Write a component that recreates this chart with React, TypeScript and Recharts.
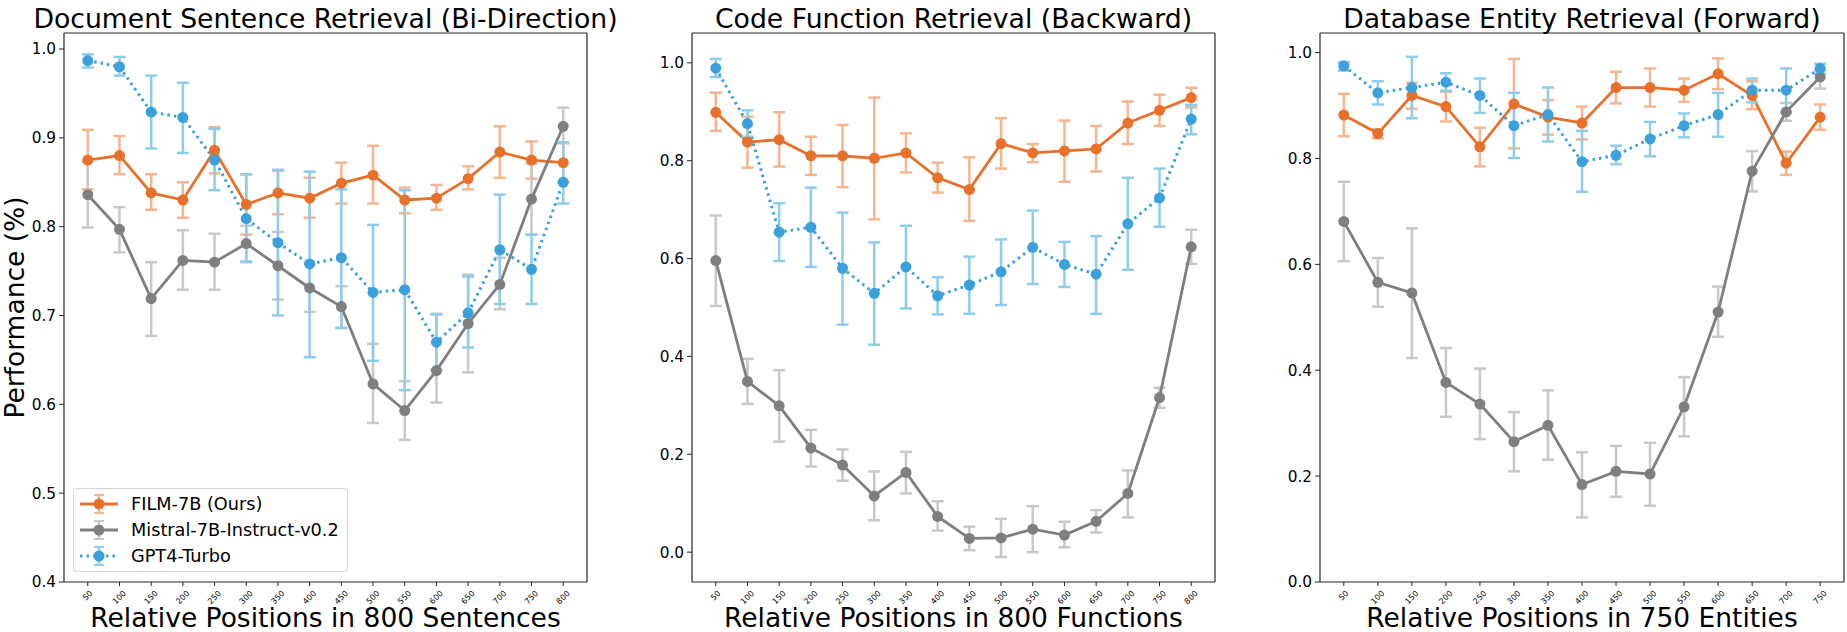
import React from 'react';
import { LineChart, Line, XAxis, YAxis, ErrorBar, Legend, ReferenceLine } from 'recharts';

const FONT = '"DejaVu Sans", "Noto Sans", sans-serif';
const ORANGE = '#E8702A';
const ORANGE_ERR = '#F4B58F';
const GRAY = '#7F7F7F';
const GRAY_ERR = '#C8C8C8';
const BLUE = '#3BA0DB';
const BLUE_ERR = '#8DCDEC';

const SERIES_NAMES = ['FILM-7B (Ours)', 'Mistral-7B-Instruct-v0.2', 'GPT4-Turbo'];

const positions800 = [50, 100, 150, 200, 250, 300, 350, 400, 450, 500, 550, 600, 650, 700, 750, 800];
const positions750 = [50, 100, 150, 200, 250, 300, 350, 400, 450, 500, 550, 600, 650, 700, 750];

// Document Sentence Retrieval (Bi-Direction)
const docFilm = [0.875, 0.880, 0.838, 0.830, 0.886, 0.825, 0.838, 0.832, 0.849, 0.858, 0.830, 0.832, 0.854, 0.884, 0.875, 0.872];
const docFilmHi = [0.909, 0.902, 0.859, 0.850, 0.912, 0.859, 0.863, 0.855, 0.872, 0.891, 0.844, 0.847, 0.868, 0.913, 0.896, 0.894];
const docFilmLo = [0.842, 0.859, 0.819, 0.810, 0.860, 0.791, 0.814, 0.810, 0.826, 0.826, 0.815, 0.819, 0.842, 0.855, 0.854, 0.850];
const docMistral = [0.836, 0.797, 0.719, 0.762, 0.760, 0.781, 0.756, 0.731, 0.710, 0.623, 0.593, 0.638, 0.691, 0.735, 0.831, 0.913];
const docMistralHi = [0.873, 0.822, 0.760, 0.796, 0.792, 0.801, 0.794, 0.758, 0.733, 0.668, 0.626, 0.702, 0.746, 0.765, 0.871, 0.934];
const docMistralLo = [0.799, 0.771, 0.677, 0.729, 0.729, 0.761, 0.718, 0.704, 0.686, 0.579, 0.560, 0.602, 0.636, 0.707, 0.791, 0.894];
const docGpt = [0.987, 0.980, 0.929, 0.923, 0.875, 0.809, 0.782, 0.758, 0.765, 0.726, 0.729, 0.670, 0.703, 0.774, 0.752, 0.850];
const docGptHi = [0.994, 0.991, 0.970, 0.962, 0.910, 0.859, 0.864, 0.862, 0.842, 0.802, 0.841, 0.701, 0.744, 0.836, 0.791, 0.895];
const docGptLo = [0.979, 0.970, 0.888, 0.883, 0.841, 0.760, 0.700, 0.653, 0.686, 0.649, 0.616, 0.639, 0.664, 0.713, 0.713, 0.826];

// Code Function Retrieval (Backward)
const codeFilm = [0.899, 0.838, 0.843, 0.810, 0.810, 0.805, 0.816, 0.765, 0.741, 0.835, 0.816, 0.820, 0.824, 0.877, 0.903, 0.929];
const codeFilmHi = [0.939, 0.890, 0.899, 0.849, 0.873, 0.929, 0.856, 0.796, 0.807, 0.887, 0.834, 0.882, 0.871, 0.921, 0.935, 0.949];
const codeFilmLo = [0.861, 0.786, 0.788, 0.771, 0.746, 0.680, 0.776, 0.735, 0.677, 0.784, 0.797, 0.757, 0.778, 0.834, 0.871, 0.909];
const codeMistral = [0.596, 0.349, 0.299, 0.213, 0.178, 0.115, 0.163, 0.073, 0.028, 0.029, 0.047, 0.035, 0.063, 0.120, 0.316, 0.624];
const codeMistralHi = [0.688, 0.395, 0.372, 0.250, 0.210, 0.165, 0.205, 0.104, 0.052, 0.068, 0.094, 0.062, 0.086, 0.167, 0.336, 0.659];
const codeMistralLo = [0.503, 0.303, 0.226, 0.175, 0.146, 0.065, 0.120, 0.044, 0.004, -0.010, 0.000, 0.010, 0.040, 0.071, 0.295, 0.589];
const codeGpt = [0.989, 0.876, 0.654, 0.664, 0.580, 0.529, 0.583, 0.524, 0.546, 0.573, 0.623, 0.588, 0.568, 0.671, 0.724, 0.885];
const codeGptHi = [1.008, 0.903, 0.713, 0.745, 0.694, 0.633, 0.667, 0.562, 0.604, 0.639, 0.698, 0.634, 0.646, 0.765, 0.784, 0.914];
const codeGptLo = [0.971, 0.849, 0.595, 0.583, 0.465, 0.424, 0.498, 0.486, 0.487, 0.505, 0.548, 0.542, 0.487, 0.577, 0.665, 0.854];

// Database Entity Retrieval (Forward)
const dbFilm = [0.882, 0.847, 0.919, 0.898, 0.822, 0.903, 0.878, 0.867, 0.934, 0.934, 0.929, 0.960, 0.919, 0.791, 0.878];
const dbFilmHi = [0.922, 0.855, 0.943, 0.926, 0.858, 0.988, 0.910, 0.898, 0.964, 0.970, 0.951, 0.989, 0.946, 0.813, 0.902];
const dbFilmLo = [0.842, 0.838, 0.894, 0.870, 0.785, 0.819, 0.845, 0.836, 0.904, 0.898, 0.907, 0.931, 0.893, 0.769, 0.854];
const dbMistral = [0.681, 0.566, 0.546, 0.377, 0.336, 0.265, 0.296, 0.184, 0.209, 0.204, 0.331, 0.510, 0.776, 0.888, 0.954];
const dbMistralHi = [0.756, 0.612, 0.668, 0.442, 0.403, 0.321, 0.362, 0.245, 0.257, 0.263, 0.387, 0.558, 0.814, 0.905, 0.967];
const dbMistralLo = [0.606, 0.520, 0.423, 0.312, 0.270, 0.209, 0.231, 0.122, 0.161, 0.144, 0.275, 0.463, 0.738, 0.871, 0.932];
const dbGpt = [0.975, 0.924, 0.934, 0.944, 0.919, 0.862, 0.883, 0.794, 0.806, 0.837, 0.862, 0.883, 0.929, 0.929, 0.970];
const dbGptHi = [0.982, 0.946, 0.992, 0.961, 0.951, 0.924, 0.934, 0.852, 0.824, 0.869, 0.885, 0.924, 0.951, 0.970, 0.979];
const dbGptLo = [0.966, 0.902, 0.876, 0.928, 0.886, 0.801, 0.832, 0.737, 0.789, 0.804, 0.840, 0.841, 0.906, 0.887, 0.960];

const ticksDocY = [0.4, 0.5, 0.6, 0.7, 0.8, 0.9, 1.0];
const ticksCodeY = [0.0, 0.2, 0.4, 0.6, 0.8, 1.0];
const ticksDbY = [0.0, 0.2, 0.4, 0.6, 0.8, 1.0];

type Triple = { v: number[]; hi: number[]; lo: number[] };

function buildRows(xs: number[], film: Triple, mistral: Triple, gpt: Triple) {
  return xs.map((x, i) => ({
    x,
    film: film.v[i],
    filmErr: [film.v[i] - film.lo[i], film.hi[i] - film.v[i]],
    mistral: mistral.v[i],
    mistralErr: [mistral.v[i] - mistral.lo[i], mistral.hi[i] - mistral.v[i]],
    gpt: gpt.v[i],
    gptErr: [gpt.v[i] - gpt.lo[i], gpt.hi[i] - gpt.v[i]],
  }));
}

const docRows = buildRows(
  positions800,
  { v: docFilm, hi: docFilmHi, lo: docFilmLo },
  { v: docMistral, hi: docMistralHi, lo: docMistralLo },
  { v: docGpt, hi: docGptHi, lo: docGptLo }
);
const codeRows = buildRows(
  positions800,
  { v: codeFilm, hi: codeFilmHi, lo: codeFilmLo },
  { v: codeMistral, hi: codeMistralHi, lo: codeMistralLo },
  { v: codeGpt, hi: codeGptHi, lo: codeGptLo }
);
const dbRows = buildRows(
  positions750,
  { v: dbFilm, hi: dbFilmHi, lo: dbFilmLo },
  { v: dbMistral, hi: dbMistralHi, lo: dbMistralLo },
  { v: dbGpt, hi: dbGptHi, lo: dbGptLo }
);

const AXIS = '#262626';

const RotTick = (props: any) => {
  const { x, y, payload } = props;
  const s = String(payload.value);
  const f = 8;
  const b = (s.length * 0.636 * f + 0.73 * f) * 0.7071;
  const cy = y + 2 + b / 2;
  return (
    <text
      x={x}
      y={cy}
      transform={`rotate(-45 ${x} ${cy})`}
      textAnchor="middle"
      dominantBaseline="central"
      fontSize={f}
      fontFamily={FONT}
      fill="#000"
    >
      {s}
    </text>
  );
};

const legendItems = [
  { name: SERIES_NAMES[0], color: ORANGE, err: ORANGE_ERR, dash: undefined as string | undefined },
  { name: SERIES_NAMES[1], color: GRAY, err: GRAY_ERR, dash: undefined as string | undefined },
  { name: SERIES_NAMES[2], color: BLUE, err: BLUE_ERR, dash: '2.5 4' },
];

const LegendBox = () => (
  <div
    style={{
      width: 275,
      height: 84,
      boxSizing: 'border-box',
      border: '1px solid #d6d6d6',
      borderRadius: 4,
      background: 'rgba(255,255,255,0.85)',
      fontFamily: FONT,
      fontSize: 17.7,
      position: 'relative',
      color: '#000',
    }}
  >
    {legendItems.map((it, i) => (
      <div
        key={it.name}
        style={{ position: 'absolute', left: 0, top: 2 + i * 26, height: 26, display: 'flex', alignItems: 'center' }}
      >
        <svg width={57} height={26} style={{ display: 'block' }}>
          <line x1={6} x2={44} y1={13} y2={13} stroke={it.color} strokeWidth={2.8} strokeDasharray={it.dash} />
          <line x1={25} x2={25} y1={4} y2={22} stroke={it.err} strokeWidth={2.5} />
          <line x1={20} x2={30} y1={4} y2={4} stroke={it.err} strokeWidth={2} />
          <line x1={20} x2={30} y1={22} y2={22} stroke={it.err} strokeWidth={2} />
          <circle cx={25} cy={13} r={5.5} fill={it.color} />
        </svg>
        <span style={{ whiteSpace: 'nowrap', lineHeight: '26px' }}>{it.name}</span>
      </div>
    ))}
  </div>
);

type PanelProps = {
  left: number;
  width: number;
  plotLeft: number;
  plotRight: number;
  title: string;
  xLabel: string;
  rows: any[];
  xDomain: [number, number];
  xTicks: number[];
  yDomain: [number, number];
  yTicks: number[];
  showYLabel?: boolean;
  showLegend?: boolean;
};

const Panel = (p: PanelProps) => {
  const yAxisWidth = p.plotLeft - p.left;
  const marginRight = p.left + p.width - p.plotRight;
  return (
    <div style={{ position: 'absolute', left: p.left, top: 0, width: p.width, height: 632 }}>
      <LineChart
        width={p.width}
        height={632}
        data={p.rows}
        margin={{ top: 33, right: marginRight, bottom: 0, left: 0 }}
      >
        <XAxis
          dataKey="x"
          type="number"
          domain={p.xDomain}
          ticks={p.xTicks}
          interval={0}
          allowDataOverflow
          height={50}
          tickSize={4}
          tickMargin={2}
          stroke={AXIS}
          tickLine={{ stroke: AXIS }}
          axisLine={{ stroke: AXIS, strokeWidth: 1.2 }}
          tick={<RotTick />}
          label={(lp: any) => {
            const vb = lp.viewBox;
            const cx = vb.x + vb.width / 2;
            return (
              <g>
                <text x={cx} y={627} textAnchor="middle" fontSize={26.5} fontFamily={FONT} fill="#000">
                  {p.xLabel}
                </text>
                <text x={cx} y={28} textAnchor="middle" fontSize={26.7} fontFamily={FONT} fill="#000">
                  {p.title}
                </text>
              </g>
            );
          }}
        />
        <YAxis
          type="number"
          domain={p.yDomain}
          ticks={p.yTicks}
          interval={0}
          allowDataOverflow
          width={yAxisWidth}
          tickSize={5}
          tickMargin={3}
          stroke={AXIS}
          tickLine={{ stroke: AXIS }}
          axisLine={{ stroke: AXIS, strokeWidth: 1.2 }}
          tick={{ fontSize: 15.3, fontFamily: FONT, fill: '#000' }}
          tickFormatter={(v: number) => v.toFixed(1)}
          label={
            p.showYLabel
              ? (lp: any) => {
                  const vb = lp.viewBox;
                  const cx = 24;
                  const cy = vb.y + vb.height / 2;
                  return (
                    <text
                      x={cx}
                      y={cy}
                      transform={`rotate(-90 ${cx} ${cy})`}
                      textAnchor="middle"
                      fontSize={26.5}
                      fontFamily={FONT}
                      fill="#000"
                    >
                      Performance (%)
                    </text>
                  );
                }
              : undefined
          }
        />
        <ReferenceLine y={p.yDomain[1]} stroke={AXIS} strokeWidth={1.2} ifOverflow="visible" />
        <ReferenceLine x={p.xDomain[1]} stroke={AXIS} strokeWidth={1.2} ifOverflow="visible" />
        <Line
          dataKey="film"
          name={SERIES_NAMES[0]}
          stroke={ORANGE}
          strokeWidth={2.8}
          dot={{ r: 5.5, fill: ORANGE, stroke: 'none' }}
          activeDot={false}
          isAnimationActive={false}
        >
          <ErrorBar dataKey="filmErr" stroke={ORANGE_ERR} strokeWidth={2.5} width={6} direction="y" isAnimationActive={false} />
        </Line>
        <Line
          dataKey="mistral"
          name={SERIES_NAMES[1]}
          stroke={GRAY}
          strokeWidth={2.8}
          dot={{ r: 5.5, fill: GRAY, stroke: 'none' }}
          activeDot={false}
          isAnimationActive={false}
        >
          <ErrorBar dataKey="mistralErr" stroke={GRAY_ERR} strokeWidth={2.5} width={6} direction="y" isAnimationActive={false} />
        </Line>
        <Line
          dataKey="gpt"
          name={SERIES_NAMES[2]}
          stroke={BLUE}
          strokeWidth={3}
          strokeDasharray="2.5 4"
          dot={{ r: 5.5, fill: BLUE, stroke: 'none', strokeDasharray: '0' }}
          activeDot={false}
          isAnimationActive={false}
        >
          <ErrorBar dataKey="gptErr" stroke={BLUE_ERR} strokeWidth={2.5} width={6} direction="y" isAnimationActive={false} />
        </Line>
        {p.showLegend ? (
          <Legend
            layout="vertical"
            align="center"
            verticalAlign="middle"
            content={() => <LegendBox />}
            wrapperStyle={{ left: 73, top: 488, width: 275, height: 84, margin: 0, padding: 0 }}
          />
        ) : null}
      </LineChart>
    </div>
  );
};

export default function App() {
  return (
    <div style={{ position: 'absolute', left: 0, top: 0, width: 1847, height: 632, background: '#fff', overflow: 'hidden' }}>
      <Panel
        left={0}
        width={640}
        plotLeft={64}
        plotRight={587}
        title="Document Sentence Retrieval (Bi-Direction)"
        xLabel="Relative Positions in 800 Sentences"
        rows={docRows}
        xDomain={[12.5, 837.5]}
        xTicks={positions800}
        yDomain={[0.4, 1.018]}
        yTicks={ticksDocY}
        showYLabel
        showLegend
      />
      <Panel
        left={615}
        width={620}
        plotLeft={692}
        plotRight={1215}
        title="Code Function Retrieval (Backward)"
        xLabel="Relative Positions in 800 Functions"
        rows={codeRows}
        xDomain={[12.5, 837.5]}
        xTicks={positions800}
        yDomain={[-0.061, 1.061]}
        yTicks={ticksCodeY}
      />
      <Panel
        left={1235}
        width={612}
        plotLeft={1320}
        plotRight={1844}
        title="Database Entity Retrieval (Forward)"
        xLabel="Relative Positions in 750 Entities"
        rows={dbRows}
        xDomain={[15, 785]}
        xTicks={positions750}
        yDomain={[0, 1.037]}
        yTicks={ticksDbY}
      />
    </div>
  );
}
